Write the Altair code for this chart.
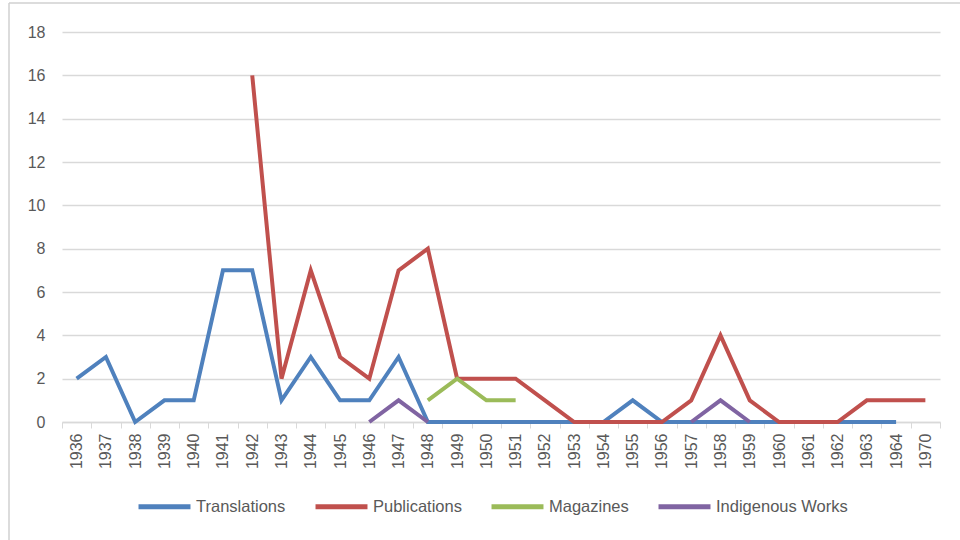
import altair as alt
import pandas as pd

years = ["1936", "1937", "1938", "1939", "1940", "1941", "1942", "1943", "1944", "1945",
         "1946", "1947", "1948", "1949", "1950", "1951", "1952", "1953", "1954", "1955",
         "1956", "1957", "1958", "1959", "1960", "1961", "1962", "1963", "1964", "1970"]

translations = [2, 3, 0, 1, 1, 7, 7, 1, 3, 1, 1, 3, 0, 0, 0, 0, 0, 0, 0, 1,
                0, 0, 0, 0, 0, 0, 0, 0, 0, None]
publications = [None, None, None, None, None, None, 16, 2, 7, 3, 2, 7, 8, 2, 2, 2, 1, 0, 0, 0,
                0, 1, 4, 1, 0, 0, 0, 1, 1, 1]
magazines = [None] * 12 + [1, 2, 1, 1] + [None] * 14
indigenous = ([None] * 10 + [0, 1, 0] + [None] * 8 + [0, 1, 0] + [None] * 6)

series_names = ["Translations", "Publications", "Magazines", "Indigenous Works"]
series_values = [translations, publications, magazines, indigenous]
colors = ["#4F81BD", "#C0504D", "#9BBB59", "#8064A2"]

rows = []
for name, vals in zip(series_names, series_values):
    seg = 0
    prev_none = True
    for y, v in zip(years, vals):
        if v is None:
            prev_none = True
            continue
        if prev_none:
            seg += 1
            prev_none = False
        rows.append({"Year": y, "Value": v, "Series": name, "Segment": f"{name}-{seg}"})
df = pd.DataFrame(rows)

FONT = "Liberation Sans"
GREY = "#595959"
LIGHT = "#d9d9d9"

x_enc = alt.X("Year:O", scale=alt.Scale(domain=years, paddingInner=0, paddingOuter=0),
              axis=alt.Axis(title=None, labelAngle=270, labelFontSize=16, labelColor=GREY,
                            labelFont=FONT, labelPadding=5, tickBand="extent", tickSize=6,
                            tickColor=LIGHT, domainColor=LIGHT, domainWidth=1.5,
                            grid=False))
y_enc = alt.Y("Value:Q", scale=alt.Scale(domain=[0, 18], nice=False),
              axis=alt.Axis(title=None, values=list(range(0, 19, 2)), labelFontSize=16,
                            labelColor=GREY, labelFont=FONT, labelPadding=17, ticks=False,
                            domain=False, gridColor=LIGHT, gridWidth=1.5))
color_enc = alt.Color("Series:N", scale=alt.Scale(domain=series_names, range=colors),
                      legend=alt.Legend(title=None, orient="none", direction="horizontal",
                                        legendX=74, legendY=446, symbolType="stroke",
                                        symbolSize=2700, symbolStrokeWidth=5,
                                        labelFontSize=16.5, labelFont=FONT, labelColor=GREY,
                                        labelOffset=3, columnPadding=19))

frame_top = alt.Chart(pd.DataFrame({"a": [0]})).mark_rule(
    color="#d0d0d0", strokeWidth=1.5
).encode(x=alt.value(-53), x2=alt.value(960), y=alt.value(-29))
frame_left = alt.Chart(pd.DataFrame({"a": [0]})).mark_rule(
    color="#d0d0d0", strokeWidth=1.5
).encode(x=alt.value(-53), y=alt.value(-29), y2=alt.value(600))

layers = [frame_top, frame_left]
for name in series_names:
    layers.append(
        alt.Chart(df).transform_filter(alt.datum.Series == name)
        .mark_line(strokeWidth=4, clip=False)
        .encode(x=x_enc, y=y_enc, color=color_enc, detail="Segment:N")
    )

chart = alt.layer(*layers).properties(
    width=878, height=390,
    background="white",
    autosize=alt.AutoSizeParams(type="none"),
    padding={"left": 62, "top": 32, "right": 20, "bottom": 118},
).configure_view(strokeWidth=0)

chart.save("out.html", embed_options={"renderer": "svg", "actions": False})
